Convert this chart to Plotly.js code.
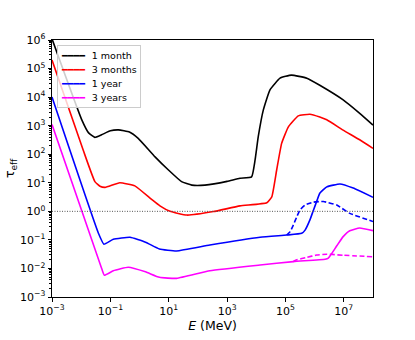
<!DOCTYPE html>
<html>
<head>
<meta charset="utf-8">
<script src="https://cdn.plot.ly/plotly-3.0.1.min.js"></script>
<style>
  body { margin: 0; background: #fff; }
  #tau { width: 415px; height: 340px; }
</style>
</head>
<body>
<div id="tau"></div>
<script>
// values (E in MeV, effective optical depth)
var month1E = [1e-3, 1.05e-2, 1.8e-2, 2.95e-2, 5e-2, 0.1, 0.19, 0.45, 0.9, 3.4, 9.8, 27.5, 62, 174, 1000, 2750, 6900, 9100, 1.17e4, 1.74e4, 2.95e4, 6.5e4, 1.6e5, 5.4e5, 1.5e6, 9.5e6, 3.5e7, 1e8];
var month1T = [1.1e6, 1600, 560, 390, 480, 660, 710, 600, 360, 81, 28, 11, 8.3, 8.3, 11.2, 14.5, 16, 63, 410, 3500, 1.8e4, 4.6e4, 5.9e4, 4.6e4, 2.6e4, 8000, 2700, 1050];

var month3E = [1e-3, 1.17e-2, 2.95e-2, 4.4e-2, 6.6e-2, 0.21, 0.69, 2.6, 5, 11, 42, 340, 2750, 2.3e4, 3.4e4, 5e4, 7.4e4, 1.26e5, 2.75e5, 6.9e5, 1.5e6, 2.6e6, 9.5e6, 3.5e7, 1e8];
var month3T = [2e5, 140, 11, 7.6, 6.9, 10, 7.8, 2.6, 1.55, 1.0, 0.74, 0.98, 1.55, 2.0, 3.2, 28, 240, 910, 2200, 2500, 2000, 1600, 700, 320, 160];

var year1E = [1e-3, 3.9e-2, 6e-2, 0.126, 0.47, 1.6, 4.8, 18.6, 257, 1.35e4, 1.1e5, 3.6e5, 4.7e5, 6.9e5, 9.1e5, 1.17e6, 1.5e6, 2.6e6, 7.4e6, 2.1e7, 1e8];
var year1T = [1e4, 0.17, 0.071, 0.105, 0.123, 0.083, 0.048, 0.041, 0.066, 0.123, 0.148, 0.17, 0.22, 0.5, 1.1, 2.2, 4.3, 7.2, 9.1, 6.5, 3.1];

var year1dashE = [1.1e5, 1.45e5, 1.86e5, 2.45e5, 3.16e5, 4.7e5, 9.1e5, 2e6, 5.75e6, 1.6e7, 1e8];
var year1dashT = [0.148, 0.195, 0.33, 0.65, 1.12, 1.66, 2.1, 2.2, 1.66, 0.85, 0.44];

var year3E = [1e-3, 4.8e-2, 6.2e-2, 0.126, 0.41, 1.6, 4.8, 18.6, 257, 1.35e4, 1.86e5, 2.3e6, 2.95e6, 3.9e6, 5.75e6, 9.5e6, 1.6e7, 3.5e7, 1e8];
var year3T = [1100, 0.0115, 0.0058, 0.0083, 0.011, 0.0076, 0.0049, 0.0045, 0.0083, 0.0132, 0.0174, 0.021, 0.023, 0.034, 0.062, 0.13, 0.21, 0.26, 0.21];

var year3dashE = [1.86e5, 2.45e5, 5.4e5, 1.17e6, 2.6e6, 9.5e6, 1e8];
var year3dashT = [0.0174, 0.02, 0.0245, 0.0295, 0.0316, 0.029, 0.0257];

var refLevel = 1;

var seriesNames = ['1 month', '3 months', '1 year', '3 years'];
var seriesColors = ['black', '#ff0000', '#0000ff', '#ff00ff'];

var xTickVals = [1e-3, 1e-1, 1e1, 1e3, 1e5, 1e7];
var xTickText = ['10<sup>−3</sup>', '10<sup>−1</sup>', '10<sup>1</sup>', '10<sup>3</sup>', '10<sup>5</sup>', '10<sup>7</sup>'];
var yTickVals = [1e-3, 1e-2, 1e-1, 1, 1e1, 1e2, 1e3, 1e4, 1e5, 1e6];
var yTickText = ['10<sup>−3</sup>', '10<sup>−2</sup>', '10<sup>−1</sup>', '10<sup>0</sup>', '10<sup>1</sup>', '10<sup>2</sup>', '10<sup>3</sup>', '10<sup>4</sup>', '10<sup>5</sup>', '10<sup>6</sup>'];

// minor ticks 2..9 in every decade of the y axis
var yMinor = [];
for (var d = -3; d < 6; d++) {
  for (var m = 2; m < 10; m++) {
    yMinor.push(m * Math.pow(10, d));
  }
}

var lw = 1.6;
var smooth = 0.4;

var trace1 = {
  x: month1E, y: month1T, mode: 'lines', name: seriesNames[0],
  line: {color: seriesColors[0], width: lw, shape: 'spline', smoothing: smooth}
};
var trace2 = {
  x: month3E, y: month3T, mode: 'lines', name: seriesNames[1],
  line: {color: seriesColors[1], width: lw, shape: 'spline', smoothing: smooth}
};
var trace3 = {
  x: year1E, y: year1T, mode: 'lines', name: seriesNames[2],
  line: {color: seriesColors[2], width: lw, shape: 'spline', smoothing: smooth}
};
var trace4 = {
  x: year3E, y: year3T, mode: 'lines', name: seriesNames[3],
  line: {color: seriesColors[3], width: lw, shape: 'spline', smoothing: smooth}
};
var trace5 = {
  x: year1dashE, y: year1dashT, mode: 'lines', name: seriesNames[2],
  line: {color: seriesColors[2], width: lw, dash: '5px,2.5px', shape: 'spline', smoothing: smooth}
};
var trace6 = {
  x: year3dashE, y: year3dashT, mode: 'lines', name: seriesNames[3],
  line: {color: seriesColors[3], width: lw, dash: '5px,2.5px', shape: 'spline', smoothing: smooth}
};

var data = [trace1, trace2, trace3, trace4, trace5, trace6];

// compact legend box (plotly's own legend rows are too tall for this figure)
var legendLines = [];
for (var i = 0; i < seriesNames.length; i++) {
  legendLines.push('<span style="color:' + seriesColors[i] + ';font-size:9.5px">━━━━</span>&nbsp;&nbsp;' +
                   '<span style="font-size:9.5px">' + seriesNames[i] + '</span>');
}

var layout = {
  width: 415,
  height: 340,
  margin: {l: 52, r: 42, t: 40, b: 43},
  paper_bgcolor: 'white',
  plot_bgcolor: 'white',
  font: {family: 'DejaVu Sans', size: 11, color: 'black'},
  showlegend: false,
  xaxis: {
    type: 'log',
    range: [-3, 8],
    tickmode: 'array', tickvals: xTickVals, ticktext: xTickText,
    ticks: 'outside', ticklen: 3.5, tickcolor: 'black',
    showline: true, mirror: true, linecolor: 'black', linewidth: 1,
    showgrid: false, zeroline: false,
    title: {text: '<i>E</i> (MeV)', font: {size: 12.5}, standoff: 0}
  },
  yaxis: {
    type: 'log',
    range: [-3, 6],
    tickmode: 'array', tickvals: yTickVals, ticktext: yTickText,
    ticks: 'outside', ticklen: 3.5, tickcolor: 'black',
    minor: {tickmode: 'array', tickvals: yMinor, ticks: 'outside', ticklen: 2, tickcolor: 'black', showgrid: false},
    showline: true, mirror: true, linecolor: 'black', linewidth: 1,
    showgrid: false, zeroline: false,
    title: {text: 'τ<sub>eff</sub>', font: {size: 13}, standoff: 2}
  },
  annotations: [{
    xref: 'paper', yref: 'paper', x: 0.015, y: 0.982,
    xanchor: 'left', yanchor: 'top', align: 'left', showarrow: false,
    text: legendLines.join('<br>'),
    font: {family: 'DejaVu Sans', size: 10.8, color: 'black'},
    bgcolor: 'rgba(255,255,255,0.8)', bordercolor: '#cccccc', borderwidth: 1, borderpad: 3
  }],
  shapes: [{
    type: 'line', xref: 'paper', yref: 'y',
    x0: 0, x1: 1, y0: refLevel, y1: refLevel,
    line: {color: '#555555', width: 1, dash: '1px,1.5px'}
  }]
};

Plotly.newPlot('tau', data, layout, {displayModeBar: false});
</script>
</body>
</html>
